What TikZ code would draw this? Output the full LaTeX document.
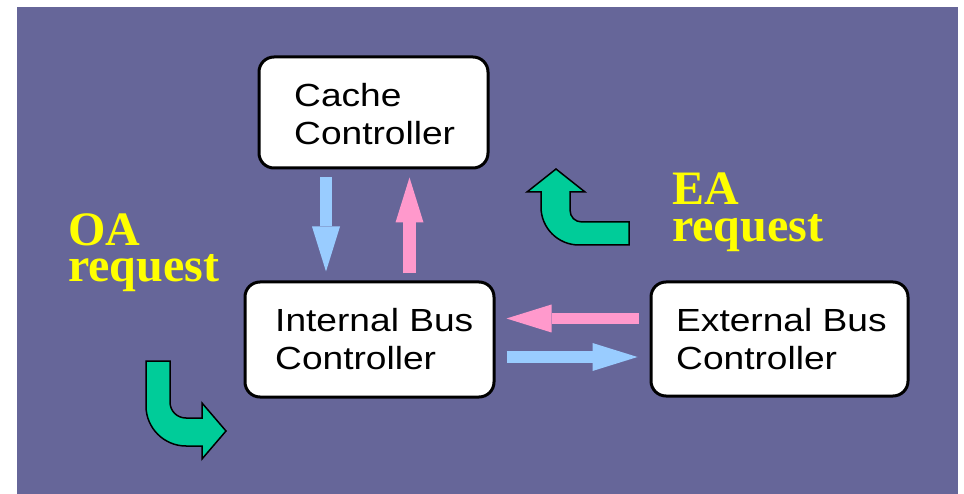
\documentclass[tikz,border=0pt]{standalone}
\usepackage{fontspec}
\setmainfont{Liberation Serif}
\newfontfamily\boxfont{Liberation Sans}[FakeStretch=1.16]
\usetikzlibrary{arrows.meta}
\definecolor{bgpurple}{HTML}{666699}
\definecolor{greenarrow}{HTML}{00CC99}
\definecolor{pinkarrow}{HTML}{FF99CC}
\definecolor{bluearrow}{HTML}{99CCFF}
\definecolor{reqyellow}{HTML}{FFFF00}
\begin{document}
\begin{tikzpicture}[x=1pt,y=-1pt,
  ctrlbox/.style={draw=black,line width=3pt,fill=white,rounded corners=15pt,inner sep=0pt},
  boxtext/.style={anchor=base west,inner sep=0pt,font=\boxfont\fontsize{32}{38}\selectfont,text=black},
  reqtext/.style={anchor=base west,inner sep=0pt,font=\bfseries\fontsize{48}{48}\selectfont,text=reqyellow},
  blockarrow/.style={line width=12pt,-{Triangle[length=45pt,width=28pt,line width=0pt]}},
  curvedarrow/.style={draw=black,line width=1.5pt,fill=greenarrow,line join=miter}]
\useasboundingbox (0,0) rectangle (964,494);
\fill[white] (0,0) rectangle (964,494);
\fill[bgpurple] (17,7) rectangle (958,494);
% boxes
\node[ctrlbox,minimum width=229pt,minimum height=111pt] (cache) at (373.5,112.5) {};
\node[ctrlbox,minimum width=249pt,minimum height=115pt] (ibc) at (369.5,339.5) {};
\node[ctrlbox,minimum width=257pt,minimum height=114pt] (ebc) at (779.5,339) {};
% box texts
\node[boxtext] (cache1) at (294,107) {Cache};
\node[boxtext] (cache2) at (294,145) {Controller};
\node[boxtext] (ibc1) at (275,332) {Internal Bus};
\node[boxtext] (ibc2) at (275,370) {Controller};
\node[boxtext] (ebc1) at (676,332) {External Bus};
\node[boxtext] (ebc2) at (676,370) {Controller};
% request labels
\node[reqtext] (oa1) at (68,246) {OA};
\node[reqtext] (oa2) at (68,282) {request};
\node[reqtext] (ea1) at (672,205) {EA};
\node[reqtext] (ea2) at (672,242) {request};
% helper coordinates
\coordinate (xdown) at (326,0);
\coordinate (xup) at (409.5,0);
\coordinate (yleft) at (0,318.5);
\coordinate (yright) at (0,357);
% block arrows
\draw[blockarrow,bluearrow,shorten <=8pt,shorten >=9pt] (cache.south -| xdown) -- (ibc.north -| xdown);
\draw[blockarrow,pinkarrow,line width=13pt,shorten <=7pt,shorten >=8pt] (ibc.north -| xup) -- (cache.south -| xup);
\draw[blockarrow,pinkarrow,line width=11pt,shorten <=11pt,shorten >=11pt] (ebc.west |- yleft) -- (ibc.east |- yleft);
\draw[blockarrow,bluearrow,shorten <=11pt,shorten >=12pt] (ibc.east |- yright) -- (ebc.west |- yright);
% curved green arrows
\draw[curvedarrow] (146,361) -- (146,406) .. controls (146,428) and (164,446) .. (186,446)
  -- (202,446) -- (202,459) -- (226,431) -- (202,403) -- (202,418) -- (186,418)
  .. controls (177,418) and (170,411) .. (170,402) -- (170,361) -- cycle;
\draw[curvedarrow] (556,169) -- (585,192) -- (570,192) -- (570,210)
  .. controls (570,217) and (575,222) .. (582,222) -- (629,222) -- (629,245) -- (579,245)
  .. controls (558,245) and (541,228) .. (541,207) -- (541,192) -- (527,192) -- cycle;
\end{tikzpicture}
\end{document}
